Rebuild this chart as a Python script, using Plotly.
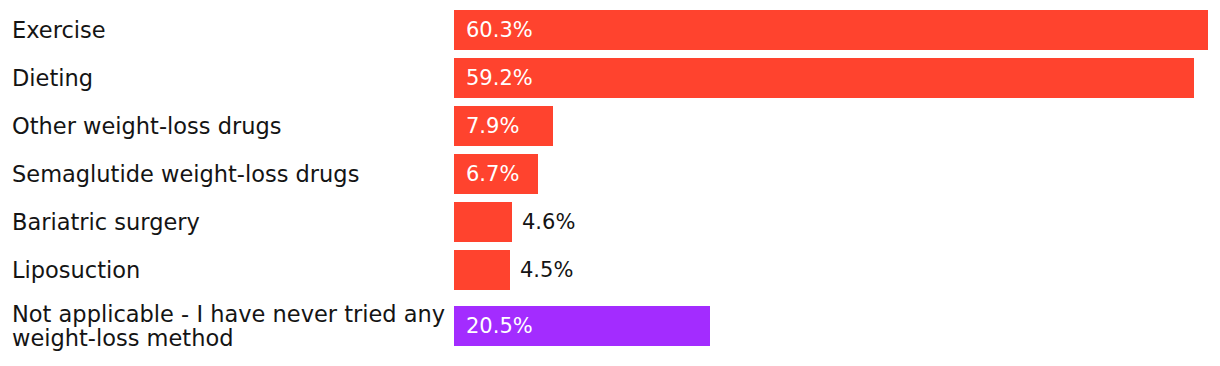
import plotly.graph_objects as go

categories = [
    "Exercise",
    "Dieting",
    "Other weight-loss drugs",
    "Semaglutide weight-loss drugs",
    "Bariatric surgery",
    "Liposuction",
    "Not applicable - I have never tried any<br>weight-loss method",
]
values = [60.3, 59.2, 7.9, 6.7, 4.6, 4.5, 20.5]
value_labels = ["60.3%", "59.2%", "7.9%", "6.7%", "4.6%", "4.5%", "20.5%"]
bar_colors = ["#ff432e", "#ff432e", "#ff432e", "#ff432e", "#ff432e", "#ff432e", "#a32cff"]

W, H = 1220, 366
FONT = "DejaVu Sans"
FS_LABEL = 22.5
FS_VALUE = 21
BAR_H = 40
GAP = 8
ROW_LINE_H = 28      # height a label line takes in the row layout
TEXT_LINE_H = 24.5   # baseline-to-baseline spacing of wrapped labels
TOP = 10
X0_PX = 454          # left edge of bars
PX_PER_UNIT = 12.5   # horizontal scale
TEXT_DARK = "#141414"

# compute row centres from label line counts
centers = []
y = TOP
for c in categories:
    n = c.count("<br>") + 1
    rh = max(BAR_H, ROW_LINE_H * n)
    centers.append(y + rh / 2)
    y += rh + GAP

fig = go.Figure(
    go.Bar(
        x=values,
        y=centers,
        orientation="h",
        width=BAR_H,
        marker=dict(color=bar_colors, line=dict(width=0)),
        hoverinfo="skip",
    )
)

annotations = []
for c, yc in zip(categories, centers):
    lines = c.split("<br>")
    n = len(lines)
    for i, line in enumerate(lines):
        annotations.append(dict(
            x=10 / W, xref="paper", y=yc, yref="y",
            yshift=-(i - (n - 1) / 2) * TEXT_LINE_H,
            text=line, showarrow=False, xanchor="left", yanchor="middle", align="left",
            font=dict(family=FONT, size=FS_LABEL, color=TEXT_DARK),
        ))
for v, lab, yc in zip(values, value_labels, centers):
    bar_px = v * PX_PER_UNIT
    text_px = sum(0.95 * FS_VALUE if ch == "%" else (0.318 * FS_VALUE if ch == "." else 0.636 * FS_VALUE)
                  for ch in lab)
    if bar_px >= text_px + 24:
        annotations.append(dict(
            x=0, y=yc, xref="x", yref="y", text=lab, showarrow=False,
            xanchor="left", yanchor="middle", xshift=10,
            font=dict(family=FONT, size=FS_VALUE, color="#ffffff"),
        ))
    else:
        annotations.append(dict(
            x=v, y=yc, xref="x", yref="y", text=lab, showarrow=False,
            xanchor="left", yanchor="middle", xshift=8,
            font=dict(family=FONT, size=FS_VALUE, color=TEXT_DARK),
        ))

fig.update_layout(
    width=W, height=H,
    margin=dict(l=0, r=0, t=0, b=0),
    paper_bgcolor="white", plot_bgcolor="white",
    showlegend=False,
    bargap=0,
    xaxis=dict(range=[-X0_PX / PX_PER_UNIT, (W - X0_PX) / PX_PER_UNIT],
               visible=False, fixedrange=True),
    yaxis=dict(range=[H, 0], visible=False, fixedrange=True),
    annotations=annotations,
    font=dict(family=FONT, size=FS_VALUE),
)

fig.write_html("out.html", config={"displayModeBar": False},
               post_script="document.body.style.margin='0';")
